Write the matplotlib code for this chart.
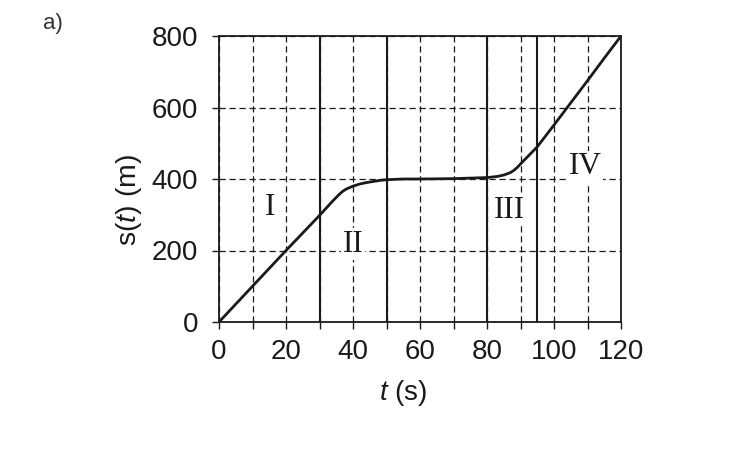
import matplotlib.pyplot as plt
import numpy as np

plt.rcParams['font.family'] = ['Liberation Sans', 'DejaVu Sans']
plt.rcParams['mathtext.fontset'] = 'custom'
plt.rcParams['mathtext.it'] = 'Liberation Sans:italic'
plt.rcParams['mathtext.rm'] = 'Liberation Sans'

# s(t) curve
t = [0, 10, 20, 30, 34, 36, 37, 38, 39, 40, 42, 44, 46, 48, 50, 55, 60, 70,
     80, 83, 85, 87, 88, 89, 90, 95, 100, 105, 110, 115, 120]
s = [0, 100, 200, 298, 339, 358, 366, 372, 376, 380, 386, 390, 393, 396, 398,
     400, 400, 401, 404, 407, 411, 418, 424, 432, 442, 490, 551, 613, 675,
     738, 800]

# phase boundaries (solid lines) and phase names
bounds = [30, 50, 80, 95]
phases = ["I", "II", "III", "IV"]
phase_t = [15.2, 40.0, 86.6, 109.3]
phase_s = [320, 218, 313, 434]

xticks = [0, 20, 40, 60, 80, 100, 120]
yticks = [0, 200, 400, 600, 800]

fig = plt.figure(figsize=(7.48, 4.53), dpi=100)
ax = fig.add_axes([219/748, 1 - 322/453, 402/748, 286/453])

ax.set_xlim(0, 120)
ax.set_ylim(0, 800)
ax.set_xticks(np.arange(0, 121, 10))
ax.set_xticklabels([str(v) if v in xticks else "" for v in range(0, 121, 10)])
ax.set_yticks(yticks)
ax.tick_params(axis='both', direction='out', length=5, width=1, labelsize=20,
               colors='#1a1a1a')
ax.tick_params(axis='x', pad=7.5)
ax.tick_params(axis='y', pad=10)
ax.grid(True, color='#1a1a1a', lw=0.9, ls=(0, (5, 3)))
ax.set_axisbelow(True)
for sp in ax.spines.values():
    sp.set_linewidth(1.3)
    sp.set_color('#1a1a1a')

for b in bounds:
    ax.axvline(b, color='#1a1a1a', lw=1.5, zorder=3)

ax.plot(t, s, color='#1a1a1a', lw=2.0, zorder=4, solid_capstyle='round',
        solid_joinstyle='round')

# roman numerals sit on a white patch that hides the dashed grid
for name, x, y in zip(phases, phase_t, phase_s):
    ax.text(x, y, name, family='Liberation Serif', fontsize=22.5, ha='center',
            va='center', color='#1a1a1a', zorder=2.5,
            bbox=dict(fc='white', ec='none', pad=1.0))

fig.text(403/748, 1 - 393/453, r"$t$ (s)", fontsize=20, ha='center',
         va='center', color='#1a1a1a')
fig.text(129/748, 1 - 200/453, r"s($t$) (m)", fontsize=20.5, ha='center',
         va='center', rotation=90, color='#1a1a1a')
fig.text(53/748, 1 - 23/453, "a)", fontsize=16, ha='center', va='center',
         color='#333333')

fig.savefig("out.png", dpi=100)
